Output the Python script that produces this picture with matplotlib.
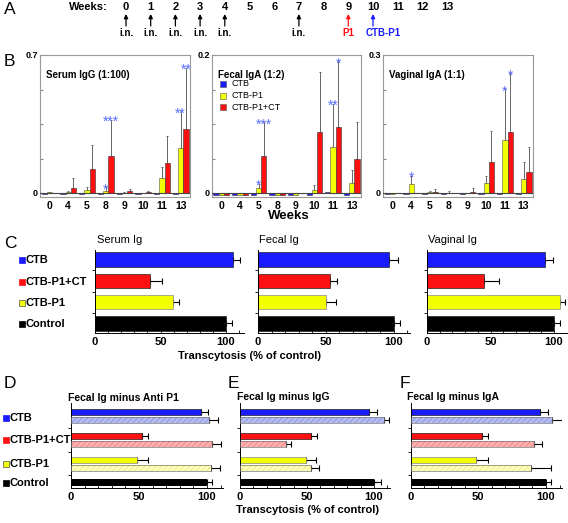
import numpy as np
import matplotlib
matplotlib.use('Agg')
import matplotlib.pyplot as plt

plt.rcParams['font.family'] = ['Liberation Sans', 'DejaVu Sans']
plt.rcParams['hatch.linewidth'] = 0.6

# ---- data -------------------------------------------------------------
weeks = list(range(14))
inj_weeks = [0, 1, 2, 3, 4, 7]

b_weeks = ['0', '4', '5', '8', '9', '10', '11', '13']

serum_ctb = [-0.006] * 8
serum_p1 = [0.003, 0.005, 0.015, 0.012, 0.002, 0.002, 0.074, 0.23]
serum_p1_err = [0, 0.003, 0.014, 0.018, 0.001, 0, 0.056, 0.184]
serum_ct = [0.002, 0.027, 0.123, 0.186, 0.008, 0.003, 0.15, 0.325]
serum_ct_err = [0, 0.049, 0.122, 0.186, 0.014, 0.005, 0.139, 0.309]
serum_stars = [(3, 'p1', '*'), (3, 'ct', '***'), (7, 'p1', '**'), (7, 'ct', '**')]

fecal_ctb = [-0.003, -0.003, -0.003, -0.003, -0.003, -0.003, 0.001, -0.003]
fecal_p1 = [-0.003, -0.003, 0.007, -0.003, -0.003, 0.005, 0.0667, 0.0145]
fecal_p1_err = [0, 0, 0.006, 0, 0, 0.007, 0.063, 0.019]
fecal_ct = [-0.003, -0.003, 0.0536, -0.003, 0.0, 0.088, 0.0957, 0.05]
fecal_ct_err = [0, 0, 0.049, 0, 0, 0.088, 0.095, 0.053]
fecal_stars = [(2, 'p1', '*'), (2, 'ct', '***'), (6, 'p1', '**'), (6, 'ct', '*')]

vag_ctb = [-0.003] * 8
vag_p1 = [-0.003, 0.0196, 0.002, 0.0, 0.0, 0.021, 0.115, 0.031]
vag_p1_err = [0, 0.018, 0.002, 0.004, 0, 0.015, 0.111, 0.037]
vag_ct = [0.0, 0.0, 0.002, 0.0, 0.003, 0.067, 0.133, 0.045]
vag_ct_err = [0, 0, 0.006, 0, 0.008, 0.067, 0.127, 0.055]
vag_stars = [(1, 'p1', '*'), (6, 'p1', '*'), (6, 'ct', '*')]

c_groups = ['CTB', 'CTB-P1+CT', 'CTB-P1', 'Control']
serum_ig = [105, 42, 59.5, 100]
serum_ig_err = [6, 9, 5, 4.6]
fecal_ig = [97, 53, 50, 100]
fecal_ig_err = [6, 5, 7.5, 5]
vaginal_ig = [93, 45, 105, 100]
vaginal_ig_err = [6, 12, 4, 5]

# D/E/F: fecal Ig (solid) and fecal Ig after depletion (hatched), CTB / CTB-P1+CT / CTB-P1
anti_p1_solid = [95.3, 52.4, 48.3]
anti_p1_solid_err = [5.6, 4.4, 8.5]
anti_p1_minus = [101.7, 103.7, 103]
anti_p1_minus_err = [6.6, 6.6, 6.6]
anti_p1_ctrl, anti_p1_ctrl_err = 100, 3.9

igg_solid = [96.3, 52.7, 49]
igg_solid_err = [6, 4.5, 8]
igg_minus = [107.7, 34, 53]
igg_minus_err = [3.7, 3.8, 6]
igg_ctrl, igg_ctrl_err = 100, 5

iga_solid = [95.6, 52.5, 48.3]
iga_solid_err = [6, 5, 8.7]
iga_minus = [104.2, 91, 88.7]
iga_minus_err = [9.8, 6.3, 15]
iga_ctrl, iga_ctrl_err = 100, 3.7

BLUE, RED, YELLOW, BLACK = '#1a1aff', '#ff1010', '#f2ff00', '#000000'
LBLUE, LRED, LYELLOW = '#b4bcf0', '#ffb0b0', '#ffffb8'
HBLUE, HRED, HYELLOW = '#8a96e0', '#f08080', '#e6e68a'
STAR = '#5a6eff'

W, H = 568, 523
fig = plt.figure(figsize=(W / 100, H / 100), dpi=100)


def px_axes(x0, y0, x1, y1):
    return fig.add_axes([x0 / W, 1 - y1 / H, (x1 - x0) / W, (y1 - y0) / H])


# ---- B: ELISA panels --------------------------------------------------
def elisa_panel(rect, ymax, ctb, p1, p1_err, ct, ct_err, stars):
    ax = px_axes(*rect)
    n = len(b_weeks)
    x = np.arange(n)
    off = {'ctb': -0.28, 'p1': 0.0, 'ct': 0.28}
    ax.bar(x + off['ctb'], ctb, 0.28, color=BLUE, edgecolor='#333', lw=0.4, zorder=2)
    ax.bar(x + off['p1'], p1, 0.28, color=YELLOW, edgecolor='#555', lw=0.4, zorder=2)
    ax.bar(x + off['ct'], ct, 0.28, color=RED, edgecolor='#333', lw=0.4, zorder=2)
    ax.errorbar(x + off['p1'], p1, yerr=[np.zeros(n), p1_err], fmt='none',
                ecolor='#666', elinewidth=0.7, capsize=1, capthick=0.7, zorder=1)
    ax.errorbar(x + off['ct'], ct, yerr=[np.zeros(n), ct_err], fmt='none',
                ecolor='#666', elinewidth=0.7, capsize=1, capthick=0.7, zorder=1)
    vals = {'p1': (p1, p1_err), 'ct': (ct, ct_err)}
    for g, s, txt in stars:
        top = vals[s][0][g] + vals[s][1][g]
        ax.annotate(txt, (g + off[s], top), xytext=(0, -4.5), textcoords='offset points',
                    ha='center', va='baseline', color=STAR, fontsize=10)
    ax.axhline(0, color='#444', lw=0.8, zorder=3)
    ax.set_xlim(-0.5, n - 0.5)
    ax.set_ylim(-ymax * 4 / 138, ymax)
    ax.set_yticks(np.linspace(0, ymax, 5))
    ax.set_yticklabels(['0', '', '', '', f'{ymax:g}'], fontsize=6.5, fontweight='bold')
    ax.set_xticks(x)
    ax.set_xticklabels(b_weeks, fontsize=7.5, fontweight='bold')
    ax.tick_params(axis='y', direction='in', length=2.5, pad=1.5, color='#888')
    ax.tick_params(axis='x', length=0, pad=3)
    for sp in ax.spines.values():
        sp.set_color('#999')
        sp.set_linewidth(0.8)
    return ax


elisa_panel((40, 55, 190, 197), 0.7, serum_ctb, serum_p1, serum_p1_err,
            serum_ct, serum_ct_err, serum_stars)
elisa_panel((212, 55, 361, 197), 0.2, fecal_ctb, fecal_p1, fecal_p1_err,
            fecal_ct, fecal_ct_err, fecal_stars)
elisa_panel((383, 55, 533, 197), 0.3, vag_ctb, vag_p1, vag_p1_err,
            vag_ct, vag_ct_err, vag_stars)


def style_hbar(ax, xmax, yticks):
    ax.set_xlim(0, xmax)
    ax.set_xticks([0, 50, 100])
    ax.set_xticks(np.arange(0, xmax, 10), minor=True)
    ax.set_xticklabels(['0', '50', '100'], fontsize=8, fontweight='bold')
    ax.set_yticks(yticks)
    ax.set_yticklabels([])
    ax.tick_params(axis='x', which='both', direction='in', length=2, pad=3, width=0.6)
    ax.tick_params(axis='y', direction='out', length=2, width=0.6)
    for side in ['top', 'right']:
        ax.spines[side].set_visible(False)
    for side in ['left', 'bottom']:
        ax.spines[side].set_linewidth(0.7)


# ---- C: transcytosis --------------------------------------------------
def transcyt_panel(x0, scale, xmax, vals, errs):
    ax = px_axes(x0, 250, x0 + scale * xmax, 333)
    y = np.arange(len(c_groups))
    ax.barh(y, vals, height=0.68, color=[BLUE, RED, YELLOW, BLACK],
            edgecolor=['#222', '#222', '#888', '#222'], lw=0.5, zorder=2)
    ax.errorbar(vals, y, xerr=[np.zeros(len(y)), errs], fmt='none', ecolor='k',
                elinewidth=0.8, capsize=2.5, capthick=0.8, zorder=1)
    ax.set_ylim(3.45, -0.45)
    style_hbar(ax, xmax, [0.5, 1.5, 2.5])
    return ax


transcyt_panel(95, 1.31, 114, serum_ig, serum_ig_err)
transcyt_panel(258, 1.355, 112, fecal_ig, fecal_ig_err)
transcyt_panel(427, 1.27, 110, vaginal_ig, vaginal_ig_err)


# ---- D/E/F: depletion -------------------------------------------------
def depletion_panel(x0, scale, xmax, solid, solid_err, minus, minus_err, ctrl, ctrl_err):
    ax = px_axes(x0, 403, x0 + scale * xmax, 488)
    y = np.arange(3)
    h = 0.275
    ax.barh(y - 0.16, solid, height=h, color=[BLUE, RED, YELLOW],
            edgecolor=['#222', '#222', '#888'], lw=0.5, zorder=2)
    ax.barh(y + 0.16, minus, height=h, color=[LBLUE, LRED, LYELLOW],
            edgecolor=[HBLUE, HRED, HYELLOW], hatch='//////', lw=0, zorder=2)
    ax.barh(y + 0.16, minus, height=h, fill=False, edgecolor='#777', lw=0.5, zorder=3)
    ax.barh([2.77], [ctrl], height=0.33, color=BLACK, zorder=2)
    ax.errorbar(solid, y - 0.16, xerr=[np.zeros(3), solid_err], fmt='none', ecolor='k',
                elinewidth=0.8, capsize=2, capthick=0.8, zorder=1)
    ax.errorbar(minus, y + 0.16, xerr=[np.zeros(3), minus_err], fmt='none', ecolor='k',
                elinewidth=0.8, capsize=2, capthick=0.8, zorder=1)
    ax.errorbar([ctrl], [2.77], xerr=[[0], [ctrl_err]], fmt='none', ecolor='k',
                elinewidth=0.8, capsize=2, capthick=0.8, zorder=1)
    ax.set_ylim(3.0, -0.54)
    style_hbar(ax, xmax, [0.5, 1.5, 2.45])
    return ax


depletion_panel(71, 1.36, 112, anti_p1_solid, anti_p1_solid_err, anti_p1_minus,
                anti_p1_minus_err, anti_p1_ctrl, anti_p1_ctrl_err)
depletion_panel(240, 1.34, 112, igg_solid, igg_solid_err, igg_minus, igg_minus_err,
                igg_ctrl, igg_ctrl_err)
depletion_panel(410.5, 1.355, 112, iga_solid, iga_solid_err, iga_minus, iga_minus_err,
                iga_ctrl, iga_ctrl_err)

# ---- overlay: schedule, letters, titles, legends ----------------------
ov = fig.add_axes([0, 0, 1, 1])
ov.set_xlim(0, W)
ov.set_ylim(H, 0)
ov.axis('off')
ov.patch.set_alpha(0)

ov.text(88, 7.5, 'Weeks:', ha='center', va='center', fontsize=8, fontweight='bold')
for w in weeks:
    ov.text(126 + 24.7 * w, 7.5, str(w), ha='center', va='center', fontsize=8, fontweight='bold')
arrows = [(w, 'k', 'i.n.') for w in inj_weeks] + [(9, '#ff1010', 'P1'), (10, '#1a1aff', 'CTB-P1')]
for w, col, lab in arrows:
    xw = 126 + 24.7 * w
    ov.annotate('', xy=(xw, 14), xytext=(xw, 26),
                arrowprops=dict(arrowstyle='-|>', color=col, lw=0.9, mutation_scale=6,
                                shrinkA=0, shrinkB=0))
    tx = xw + 10 if lab == 'CTB-P1' else xw
    ov.text(tx, 33.5, lab, ha='center', va='center', fontsize=7, fontweight='bold', color=col)

for lab, x, y in [('A', 4, 10), ('B', 4, 61), ('C', 4, 243), ('D', 4, 383),
                  ('E', 228, 383), ('F', 400, 383)]:
    ov.text(x, y, lab, ha='left', va='center', fontsize=12.5)

ov.text(46, 75, 'Serum IgG (1:100)', ha='left', va='center', fontsize=7, fontweight='bold')
ov.text(218, 75, 'Fecal IgA (1:2)', ha='left', va='center', fontsize=7, fontweight='bold')
ov.text(389, 75, 'Vaginal IgA (1:1)', ha='left', va='center', fontsize=7, fontweight='bold')
ov.text(289, 216, 'Weeks', ha='center', va='center', fontsize=9.5, fontweight='bold')

for lab, col, y in [('CTB', BLUE, 84), ('CTB-P1', YELLOW, 95.5), ('CTB-P1+CT', RED, 107)]:
    ov.plot(223, y, 's', ms=5, mfc=col, mec='#555', mew=0.4)
    ov.text(232, y, lab, ha='left', va='center', fontsize=6.5)

ov.text(97, 240, 'Serum Ig', ha='left', va='center', fontsize=8)
ov.text(259, 240, 'Fecal Ig', ha='left', va='center', fontsize=8)
ov.text(428, 240, 'Vaginal Ig', ha='left', va='center', fontsize=8)

leg_cols = [BLUE, RED, YELLOW, BLACK]
for lab, col, y in zip(c_groups, leg_cols, [260, 282, 303, 324]):
    ov.plot(22, y, 's', ms=4, mfc=col, mec='#555' if col == YELLOW else col, mew=0.5)
    ov.text(26, y, lab, ha='left', va='center', fontsize=8, fontweight='bold')
for lab, col, y in zip(c_groups, leg_cols, [418, 440, 464, 483]):
    ov.plot(6, y, 's', ms=4, mfc=col, mec='#555' if col == YELLOW else col, mew=0.5)
    ov.text(10, y, lab, ha='left', va='center', fontsize=8, fontweight='bold')

ov.text(250, 356, 'Transcytosis (% of control)', ha='center', va='center', fontsize=8, fontweight='bold')
ov.text(307, 510, 'Transcytosis (% of control)', ha='center', va='center', fontsize=8, fontweight='bold')

ov.text(68, 398, 'Fecal Ig minus Anti P1', ha='left', va='center', fontsize=7.5, fontweight='bold')
ov.text(237, 397, 'Fecal Ig minus IgG', ha='left', va='center', fontsize=7.5, fontweight='bold')
ov.text(407, 397, 'Fecal Ig minus IgA', ha='left', va='center', fontsize=7.5, fontweight='bold')

fig.savefig('out.png', dpi=100)
